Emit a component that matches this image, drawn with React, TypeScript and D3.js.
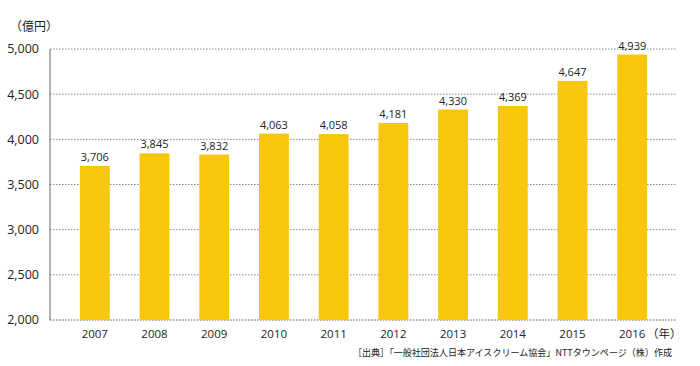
import React from "react";
import * as d3 from "d3";

const years = ["2007", "2008", "2009", "2010", "2011", "2012", "2013", "2014", "2015", "2016"];
const sales = [3706, 3845, 3832, 4063, 4058, 4181, 4330, 4369, 4647, 4939];
const yTicks = [2000, 2500, 3000, 3500, 4000, 4500, 5000];

const fmt = d3.format(",");
const numFont = "'Open Sans', 'Noto Sans', sans-serif";
const jpFont = "'Noto Sans CJK JP', sans-serif";

export default function App() {
  const width = 700;
  const height = 366;
  const left = 50, right = 677, top = 49, bottom = 320;

  const x = d3.scaleBand().domain(years).range([left, right]).paddingInner(0.5).paddingOuter(0.5);
  const y = d3.scaleLinear().domain([2000, 5000]).range([bottom, top]);

  return (
    <svg width={width} height={height} style={{ position: "absolute", left: 0, top: 0 }}>
      <rect width={width} height={height} fill="white" />
      {/* grid */}
      {yTicks.map(t => (
        <g key={t}>
          <line x1={left} x2={right} y1={y(t)} y2={y(t)}
            stroke={t === 2000 ? "#555" : "#888"} strokeWidth={1} strokeDasharray="1.5,1.5" />
          <text x={39} y={y(t)} dy="0.35em" textAnchor="end" fontFamily={numFont} fontSize={12.5} fill="#222">{fmt(t)}</text>
        </g>
      ))}
      <text x={10} y={31} fontFamily={jpFont} fontSize={12} fill="#222">（億円）</text>

      {/* bars */}
      {sales.map((v, i) => (
        <g key={years[i]}>
          <rect x={x(years[i])} y={y(v)} width={x.bandwidth()} height={bottom - y(v)} fill="#F8C60C" />
          <text x={(x(years[i]) as number) + x.bandwidth() / 2} y={y(v) - 5} textAnchor="middle"
            fontFamily={numFont} fontSize={11} fill="#222">{fmt(v)}</text>
          <text x={(x(years[i]) as number) + x.bandwidth() / 2} y={338} textAnchor="middle"
            fontFamily={numFont} fontSize={11.5} fill="#222">{years[i]}</text>
        </g>
      ))}
      <line x1={left} x2={left} y1={top} y2={bottom} stroke="#666" strokeWidth={1} />

      <text x={647} y={338} fontFamily={jpFont} fontSize={11.5} fill="#222">（年）</text>
      <text x={353} y={356} textLength={319} lengthAdjust="spacingAndGlyphs" fontFamily={jpFont} fontSize={9.5} fill="#222">［出典］「一般社団法人日本アイスクリーム協会」NTTタウンページ（株）作成</text>
    </svg>
  );
}
